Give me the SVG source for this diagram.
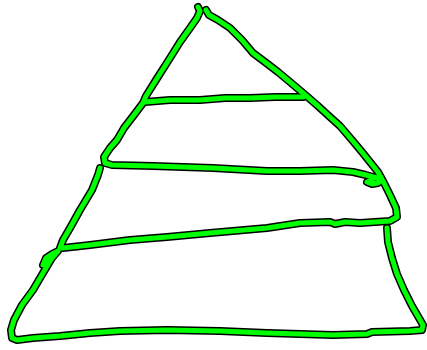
<svg xmlns="http://www.w3.org/2000/svg" width="427" height="350" viewBox="0 0 427 350">
<defs>
<style>
.o{fill:none;stroke:#000;stroke-width:8;stroke-linecap:round;stroke-linejoin:round}
.g{fill:none;stroke:#00ff00;stroke-width:5;stroke-linecap:round;stroke-linejoin:round}
</style>
<g id="strokes">
<path id="s1" d="M198,7 L200,11 L197,18 L190,28 L180,42 L170,58 L156,80 L146,96 L143,103 L134,115 L124,128 L117,140 L110,148 L104,157 L105,163 L112,165 L153,166 L213,168 L267,171 L300,171 L333,170 L353,172 L366,175 L377,178 L381,180 L378,183 L372,184 L367,182 L372,180"/>
<path id="s2" d="M100,168 L98,175 L92,190 L80,210 L70,228 L63,240 L60,248 L63,248 L90,245 L130,240 L167,237 L210,233 L267,228 L300,223 L330,222 L335,224 L345,222 L360,223 L390,221 L397,217 L396,208 L390,195 L384,183 L378,172 L370,162 L362,152 L352,140 L340,126 L330,117 L318,106 L303,93 L290,82 L278,72 L265,62 L253,53 L242,40 L230,28 L218,20 L209,15 L206,10"/>
<path id="s3" d="M145,102 L170,100 L200,100 L225,98 L250,98 L275,97 L303,97"/>
<path id="s4" d="M387,228 L388,242 L392,258 L397,274 L404,290 L412,306 L419,318 L423,325 L422,330 L410,331 L372,332 L367,334 L333,335 L300,334 L267,333 L220,331 L167,330 L120,331 L90,333 L60,336 L33,338 L17,340 L12,338 L11,330 L14,320 L22,305 L33,290 L43,273 L52,258 L58,251 L52,254 L46,258 L43,265"/>
</g>
</defs>
<rect width="427" height="350" fill="#fff"/>
<use href="#s1" class="o"/><use href="#s2" class="o"/><use href="#s3" class="o"/><use href="#s4" class="o"/>
<use href="#s1" class="g"/><use href="#s2" class="g"/><use href="#s3" class="g"/><use href="#s4" class="g"/>
</svg>
